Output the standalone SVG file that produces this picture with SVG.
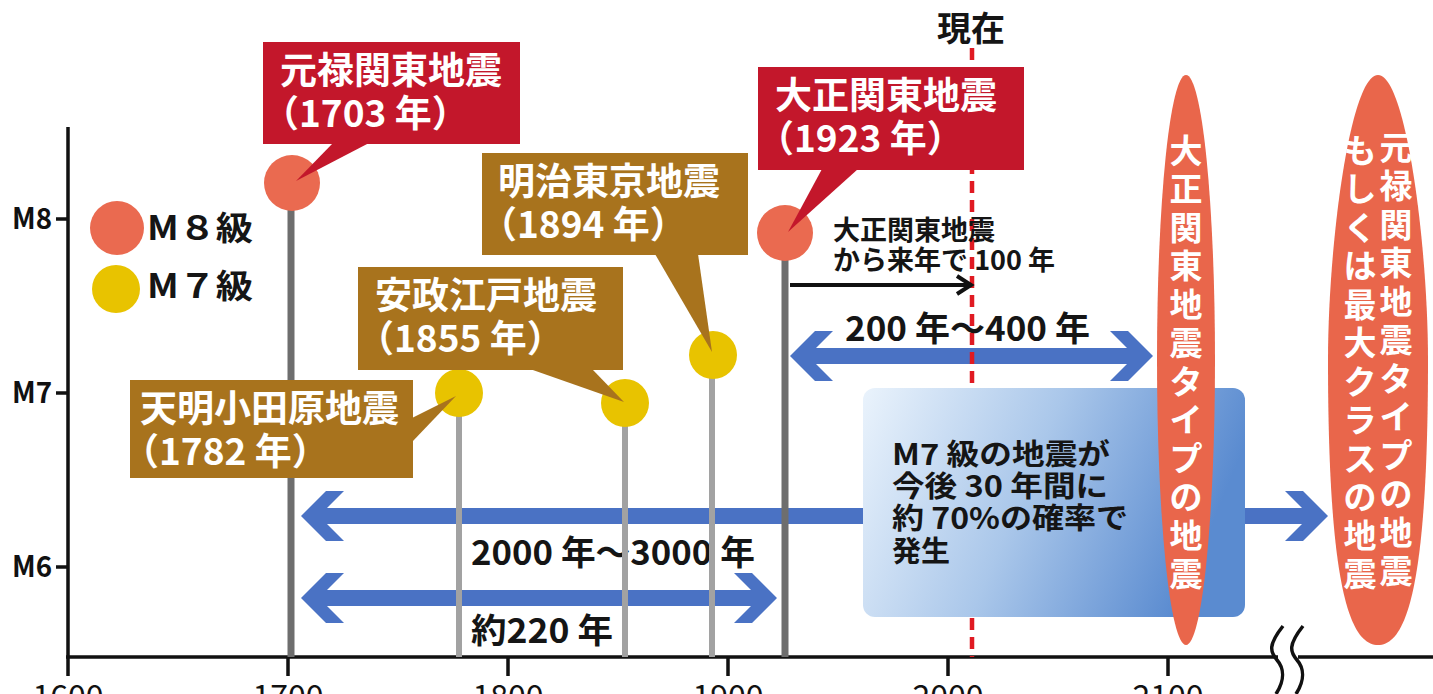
<svg xmlns="http://www.w3.org/2000/svg" width="1433" height="694" viewBox="0 0 1433 694">
<defs>
<linearGradient id="boxg" x1="0" y1="0" x2="1" y2="0.25">
<stop offset="0" stop-color="#eaf3fc"/>
<stop offset="0.5" stop-color="#aac7ea"/>
<stop offset="1" stop-color="#5a8bd0"/>
</linearGradient>
<style>
text{font-family:"Noto Sans CJK JP","Noto Sans",sans-serif;}
.cw{fill:#fff;font-weight:700;font-size:37px;}
.lb{fill:#151515;font-weight:700;}
.ax{font-size:32px;fill:#111;text-anchor:middle;}
.ay{font-size:29px;fill:#111;font-weight:700;text-anchor:end;}
.red{fill:#c3172b;}
.brn{fill:#a8731d;}
.m8{fill:#ea6a50;}
.m7{fill:#e8c300;}
.gd{stroke:#6e6e6e;stroke-width:7;}
.gl{stroke:#a2a2a2;stroke-width:6;}
.blue{fill:#4a72c4;}
.ell{fill:#e9664b;}
.vt{fill:#fff;font-weight:700;font-size:33px;text-anchor:middle;}
.axl{stroke:#111;stroke-width:3.5;fill:none;}
</style>
</defs>
<rect width="1433" height="694" fill="#fff"/>

<g id="axes">
<path class="axl" d="M68,127 V676 M66,657 H1278 M1298,657 H1433"/>
<path class="axl" stroke-width="4" d="M288,657 V676 M508,657 V676 M728,657 V676 M948,657 V676 M1168,657 V676"/>
<path class="axl" stroke-width="3" d="M56,219 H68 M56,393 H68 M56,567 H68"/>
<path class="axl" stroke-width="2.5" d="M1283,626 C1268,645 1270,652 1277,660 C1284,668 1285,680 1276,694 M1303,626 C1288,645 1290,652 1297,660 C1304,668 1305,680 1296,694"/>
<text class="ay" x="52" y="229" textLength="40" lengthAdjust="spacingAndGlyphs">M8</text>
<text class="ay" x="52" y="403" textLength="40" lengthAdjust="spacingAndGlyphs">M7</text>
<text class="ay" x="52" y="577" textLength="40" lengthAdjust="spacingAndGlyphs">M6</text>
<text class="ax" x="68" y="708">1600</text>
<text class="ax" x="288" y="708">1700</text>
<text class="ax" x="508" y="708">1800</text>
<text class="ax" x="728" y="708">1900</text>
<text class="ax" x="948" y="708">2000</text>
<text class="ax" x="1168" y="708">2100</text>
</g>

<g id="legend">
<circle class="m8" cx="117" cy="228" r="27"/>
<circle class="m7" cx="116" cy="289" r="24"/>
<text class="lb" x="147" y="240" font-size="33" textLength="106" lengthAdjust="spacingAndGlyphs">M８級</text>
<text class="lb" x="147" y="298" font-size="33" textLength="106" lengthAdjust="spacingAndGlyphs">M７級</text>
</g>

<g id="connectors">
<polygon class="blue" points="301,516 326,491 344,491 327,508 1302,508 1285,491 1303,491 1328,516 1303,541 1285,541 1302,524 327,524 344,541 326,541"/>
<polygon class="blue" points="301,598 326,573 344,573 327,590 751,590 734,573 752,573 777,598 752,623 734,623 751,606 327,606 344,623 326,623"/>
<polygon class="blue" points="790,356 815,331 833,331 816,348 1127,348 1110,331 1128,331 1153,356 1128,381 1110,381 1127,364 816,364 833,381 815,381"/>
<path d="M972,48 V657" stroke="#e01a22" stroke-width="4.5" stroke-dasharray="12 7" fill="none"/>
<path d="M790,285 H970 M957,276 L971,285 L957,294" stroke="#111" stroke-width="4" fill="none"/>
</g>

<g id="labels">
<text class="lb" x="971" y="41" font-size="34" text-anchor="middle">現在</text>
<text class="lb" x="833" y="240" font-size="27">大正関東地震</text>
<text class="lb" x="833" y="270" font-size="27">から来年で 100 年</text>
<text class="lb" x="845" y="341" font-size="34" textLength="245" lengthAdjust="spacingAndGlyphs">200 年〜400 年</text>
<text class="lb" x="471" y="565" font-size="34" textLength="284" lengthAdjust="spacingAndGlyphs">2000 年〜3000 年</text>
<text class="lb" x="471" y="643" font-size="34" textLength="142" lengthAdjust="spacingAndGlyphs">約220 年</text>
</g>

<g id="forecast-box">
<rect x="863" y="388" width="382" height="229" rx="12" fill="url(#boxg)"/>
<text class="lb" x="892" y="465" font-size="29" textLength="218" lengthAdjust="spacingAndGlyphs">M7 級の地震が</text>
<text class="lb" x="892" y="497" font-size="29" textLength="216" lengthAdjust="spacingAndGlyphs">今後 30 年間に</text>
<text class="lb" x="892" y="529" font-size="29" textLength="236" lengthAdjust="spacingAndGlyphs">約 70%の確率で</text>
<text class="lb" x="892" y="562" font-size="29">発生</text>
</g>

<g id="ev-1703">
<line class="gd" x1="291" y1="190" x2="291" y2="657"/>
<circle class="m8" cx="292" cy="183" r="28"/>
<rect class="red" x="263" y="42" width="257" height="102"/>
<polygon class="red" points="333,143 369,143 296,181"/>
<text class="cw" x="280" y="84">元禄関東地震</text>
<text class="cw" x="262" y="127">（1703 年）</text>
</g>

<g id="ev-1782">
<line class="gl" x1="459" y1="400" x2="459" y2="657"/>
<circle class="m7" cx="459" cy="393" r="24"/>
<rect class="brn" x="130" y="380" width="283" height="98"/>
<polygon class="brn" points="412,418 412,442 456,396"/>
<text class="cw" x="140" y="422">天明小田原地震</text>
<text class="cw" x="122" y="465">（1782 年）</text>
</g>

<g id="ev-1855">
<line class="gl" x1="625" y1="410" x2="625" y2="657"/>
<circle class="m7" cx="625" cy="403" r="24"/>
<rect class="brn" x="358" y="267" width="265" height="103"/>
<polygon class="brn" points="530,369 592,369 624,402"/>
<text class="cw" x="375" y="309">安政江戸地震</text>
<text class="cw" x="357" y="352">（1855 年）</text>
</g>

<g id="ev-1894">
<line class="gl" x1="712" y1="362" x2="712" y2="657"/>
<circle class="m7" cx="713" cy="355" r="24"/>
<rect class="brn" x="482" y="153" width="266" height="102"/>
<polygon class="brn" points="655,254 698,254 712,352"/>
<text class="cw" x="498" y="195">明治東京地震</text>
<text class="cw" x="480" y="238">（1894 年）</text>
</g>

<g id="ev-1923">
<line class="gd" x1="785" y1="240" x2="785" y2="657"/>
<circle class="m8" cx="785" cy="233" r="28"/>
<rect class="red" x="758" y="67" width="266" height="103"/>
<polygon class="red" points="822,169 858,169 788,232"/>
<text class="cw" x="775" y="109">大正関東地震</text>
<text class="cw" x="757" y="152">（1923 年）</text>
</g>

<g id="future-taisho">
<ellipse class="ell" cx="1186" cy="360" rx="29" ry="285"/>
<text class="vt" x="1186 1186 1186 1186 1186 1186 1186 1186 1186 1186 1186 1186" y="163 201 240 278 317 355 394 432 471 509 548 586">大正関東地震タイプの地震</text>
</g>

<g id="future-genroku">
<path class="ell" d="M1378,75 C1406,75 1428,246 1428,360 C1428,588 1406,645 1378,645 C1350,645 1328,588 1328,360 C1328,246 1350,75 1378,75 Z"/>
<text class="vt" x="1396 1396 1396 1396 1396 1396 1396 1396 1396 1396 1396 1396" y="160 198 237 275 314 352 391 429 468 506 545 583">元禄関東地震タイプの地震</text>
<text class="vt" x="1360 1360 1360 1360 1360 1360 1360 1360 1360 1360 1360 1360" y="163 201 240 278 317 355 394 432 471 509 548 586">もしくは最大クラスの地震</text>
</g>
</svg>
